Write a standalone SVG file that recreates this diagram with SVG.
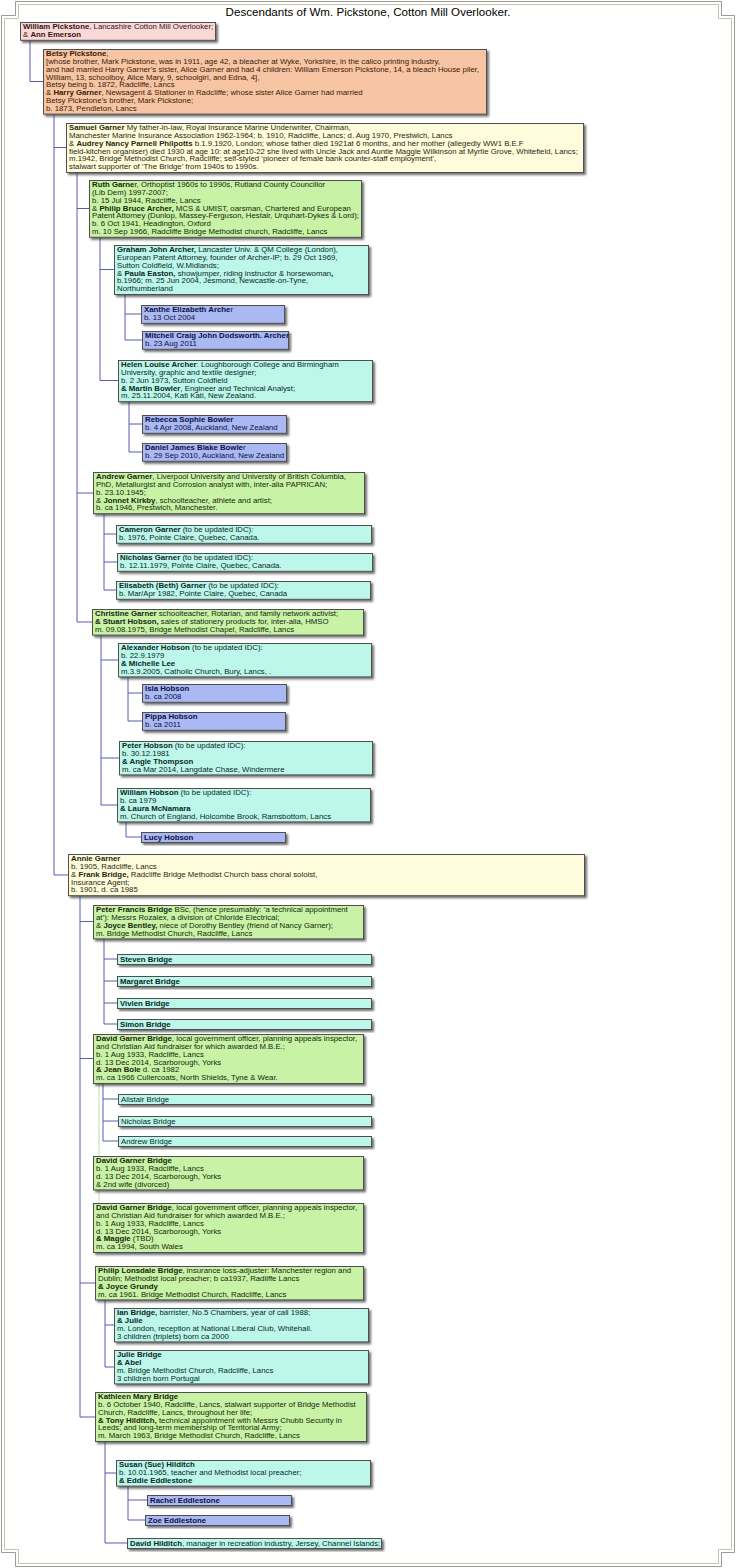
<svg xmlns="http://www.w3.org/2000/svg" width="736" height="1568" viewBox="0 0 736 1568">
<defs>
<filter id="sh" x="-5%" y="-20%" width="110%" height="150%"><feDropShadow dx="2" dy="2" stdDeviation="0.8" flood-color="#333" flood-opacity="0.7"/></filter>
<style>
text{font-family:"Liberation Sans",Arial,Helvetica,sans-serif;font-size:7.8px}
.b{font-weight:bold}
rect.bx{stroke:#505050;stroke-width:1;filter:url(#sh)}
.pk{fill:#f9d8d8}.pe{fill:#f7c5a3}.cr{fill:#fffcdb}.gr{fill:#c8f2a5}.aq{fill:#bcf7ea}.pw{fill:#aab8f3}
.tpk{fill:#3a1414}.tpe{fill:#3a1a0a}.tcr{fill:#2a2612}.tgr{fill:#15280c}.taq{fill:#0a2826}.tpw{fill:#0c1240}
#connectors path{fill:none;stroke:#5a5ab4;stroke-width:1}
#connectors path.alt{stroke:#c2dca4}
.fr1{fill:none;stroke:#9a9a9a;stroke-width:1}
.fr2{fill:none;stroke:#cbc2a6;stroke-width:1}
.title{font-size:11.6px;fill:#000}
</style>
</defs>
<rect width="736" height="1568" fill="#fff"/>
<path class="fr1" d="M15.5,1.5 H721.5 V15.5 H734.5 V1552.5 H721.5 V1566.5 H15.5 V1552.5 H1.5 V15.5 H15.5 Z"/>
<path class="fr2" d="M18.5,4.5 H718.5 V18.5 H731.5 V1549.5 H718.5 V1563.5 H18.5 V1549.5 H4.5 V18.5 H18.5 Z"/>
<text class="title" x="368" y="16" text-anchor="middle">Descendants of Wm. Pickstone, Cotton Mill Overlooker.</text>

<g id="connectors">
<path d="M30,40 V81.5 H43"/>
<path d="M54,114 V875 H68 M54,147.5 H66"/>
<path d="M77,172 V622 H92 M77,208.5 H89 M77,493 H93"/>
<path d="M100,237 V380.5 H118 M100,269.5 H114"/>
<path d="M125,294 V340 H142 M125,314 H141"/>
<path d="M129,401 V452 H142 M129,424 H142"/>
<path d="M104,513 V590 H116 M104,534 H116 M104,562 H117"/>
<path d="M101,635 V805 H117 M101,660 H118 M101,758 H119"/>
<path d="M128,676 V721 H142 M128,693 H142"/>
<path d="M126,821 V837 H141"/>
<path d="M80,895 V1417 H95 M80,921.5 H93 M80,1058.5 H93 M80,1283 H95"/>
<path d="M104,938 V1024 H117 M104,959 H117 M104,981 H117 M104,1003 H117"/>
<path d="M103,1083 V1141 H118 M103,1099 H118 M103,1121 H118"/>
<path class="alt" d="M99,1083 V1203"/>
<path d="M105,1299 V1367 H114 M105,1325 H114"/>
<path d="M105,1441 V1543 H127 M105,1473 H116"/>
<path d="M128,1486 V1520 H145 M128,1500 H147"/>
</g>

<g id="n-william"><rect class="bx pk" x="20.5" y="22.5" width="195" height="17.8"/>
<text class="tpk" x="23" y="29.2"><tspan class="b">William Pickstone</tspan>, Lancashire Cotton Mill Overlooker;</text>
<text class="tpk" x="23" y="37">&amp; <tspan class="b">Ann Emerson</tspan></text></g>

<g id="n-betsy"><rect class="bx pe" x="43.5" y="49.5" width="443" height="64.6"/>
<text class="tpe" x="46" y="56.2"><tspan class="b">Betsy Pickstone</tspan>,</text>
<text class="tpe" x="46" y="64">[whose brother, Mark Pickstone, was in 1911, age 42, a bleacher at Wyke, Yorkshire, in the calico printing industry,</text>
<text class="tpe" x="46" y="71.8">and  had married Harry Garner’s sister, Alice Garner and had 4 children: William Emerson Pickstone, 14, a bleach House piler,</text>
<text class="tpe" x="46" y="79.6">William, 13, schoolboy, Alice Mary, 9, schoolgirl, and Edna, 4],</text>
<text class="tpe" x="46" y="87.4">Betsy being b. 1872, Radcliffe, Lancs</text>
<text class="tpe" x="46" y="95.2">&amp; <tspan class="b">Harry Garner</tspan>, Newsagent &amp; Stationer in Radcliffe; whose sister Alice Garner had married</text>
<text class="tpe" x="46" y="103">Betsy Pickstone’s brother, Mark Pickstone;</text>
<text class="tpe" x="46" y="110.8">b. 1873, Pendleton, Lancs</text></g>

<g id="n-samuel"><rect class="bx cr" x="66.5" y="123.5" width="517" height="49"/>
<text class="tcr" x="69" y="130.2"><tspan class="b">Samuel Garner</tspan> My father-in-law, Royal Insurance Marine Underwriter, Chairman,</text>
<text class="tcr" x="69" y="138">Manchester Marine Insurance Association 1962-1964; b. 1910, Radcliffe, Lancs; d. Aug 1970, Prestwich, Lancs</text>
<text class="tcr" x="69" y="145.8">&amp; <tspan class="b">Audrey Nancy Parnell Philpotts</tspan> b.1.9.1920, London; whose father died 1921at 6 months, and her mother (allegedly WW1 B.E.F</text>
<text class="tcr" x="69" y="153.6">field-kitchen organiser) died 1930 at age 10: at age10-22 she lived with Uncle Jack and Auntie Maggie Wilkinson at Myrtle Grove, Whitefield, Lancs;</text>
<text class="tcr" x="69" y="161.4">m.1942, Bridge Methodist Church, Radcliffe; self-styled ‘pioneer of female bank counter-staff employment’,</text>
<text class="tcr" x="69" y="169.2">stalwart supporter of ‘The Bridge’ from 1940s to 1990s.</text></g>

<g id="n-ruth"><rect class="bx gr" x="89.5" y="180.5" width="272" height="56.8"/>
<text class="tgr" x="92" y="187.2"><tspan class="b">Ruth Garne</tspan>r, Orthoptist 1960s to 1990s, Rutland County Councillor</text>
<text class="tgr" x="92" y="195"> (Lib Dem) 1997-2007;</text>
<text class="tgr" x="92" y="202.8">b. 15 Jul 1944, Radcliffe, Lancs</text>
<text class="tgr" x="92" y="210.6">&amp; <tspan class="b">Philip Bruce Archer,</tspan> MCS &amp; UMIST, oarsman, Chartered and European</text>
<text class="tgr" x="92" y="218.4">Patent Attorney (Dunlop, Massey-Ferguson, Hestair, Urquhart-Dykes &amp; Lord);</text>
<text class="tgr" x="92" y="226.2">b. 6 Oct 1941, Headington, Oxford</text>
<text class="tgr" x="92" y="234">m. 10 Sep 1966, Radcliffe Bridge Methodist church, Radcliffe, Lancs</text></g>

<g id="n-graham"><rect class="bx aq" x="114.5" y="245.5" width="254" height="49"/>
<text class="taq" x="117" y="252.2"><tspan class="b">Graham John Archer,</tspan> Lancaster Univ. &amp; QM College (London),</text>
<text class="taq" x="117" y="260">European Patent Attorney, founder of Archer-IP; b. 29 Oct 1969,</text>
<text class="taq" x="117" y="267.8">Sutton Coldfield, W.Midlands;</text>
<text class="taq" x="117" y="275.6">&amp; <tspan class="b">Paula Easton,</tspan> showjumper, riding instructor &amp; horsewoman<tspan class="b">,</tspan></text>
<text class="taq" x="117" y="283.4"> b.1966; m. 25 Jun 2004, Jesmond, Newcastle-on-Tyne,</text>
<text class="taq" x="117" y="291.2">Northumberland</text></g>

<g id="n-xanthe"><rect class="bx pw" x="141.5" y="305.5" width="143" height="17.8"/>
<text class="tpw" x="144" y="312.2"><tspan class="b">Xanthe Elizabeth Arche</tspan>r</text>
<text class="tpw" x="144" y="320">b. 13 Oct 2004</text></g>

<g id="n-mitchell"><rect class="bx pw" x="142.5" y="331.5" width="146" height="17.8"/>
<text class="tpw" x="145" y="338.2"><tspan class="b">Mitchell Craig John Dodsworth. Archer</tspan></text>
<text class="tpw" x="145" y="346">b. 23 Aug 2011</text></g>

<g id="n-helen"><rect class="bx aq" x="118.5" y="360.5" width="254" height="41.2"/>
<text class="taq" x="121" y="367.2"><tspan class="b">Helen Louise Archer</tspan>: Loughborough College and Birmingham</text>
<text class="taq" x="121" y="375">University, graphic and textile designer;</text>
<text class="taq" x="121" y="382.8">b. 2 Jun 1973, Sutton Coldfield</text>
<text class="taq" x="121" y="390.6"><tspan class="b">&amp; Martin Bowler</tspan>, Engineer and Technical Analyst;</text>
<text class="taq" x="121" y="398.4">m. 25.11.2004, Kati Kati, New Zealand.</text></g>

<g id="n-rebecca"><rect class="bx pw" x="142.5" y="415.5" width="144" height="17.8"/>
<text class="tpw" x="145" y="422.2"><tspan class="b">Rebecca Sophie Bowler</tspan></text>
<text class="tpw" x="145" y="430">b. 4 Apr 2008, Auckland, New Zealand</text></g>

<g id="n-daniel"><rect class="bx pw" x="142.5" y="443.5" width="144" height="17.8"/>
<text class="tpw" x="145" y="450.2"><tspan class="b">Daniel James Blake Bowle</tspan>r</text>
<text class="tpw" x="145" y="458">b. 29 Sep 2010, Auckland, New Zealand</text></g>

<g id="n-andrew"><rect class="bx gr" x="93.5" y="472.5" width="271" height="41.2"/>
<text class="tgr" x="96" y="479.2"><tspan class="b">Andrew Garner</tspan>, Liverpool University and University of British Columbia,</text>
<text class="tgr" x="96" y="487">PhD, Metallurgist and Corrosion analyst with, inter-alia PAPRICAN;</text>
<text class="tgr" x="96" y="494.8">b. 23.10.1945;</text>
<text class="tgr" x="96" y="502.6">&amp; <tspan class="b">Jonnet Kirkby</tspan>, schoolteacher, athlete and artist;</text>
<text class="tgr" x="96" y="510.4">b. ca 1946, Prestwich, Manchester.</text></g>

<g id="n-cameron"><rect class="bx aq" x="116.5" y="525.5" width="255" height="17.8"/>
<text class="taq" x="119" y="532.2"><tspan class="b">Cameron Garner</tspan> (to be updated IDC):</text>
<text class="taq" x="119" y="540">b. 1976, Pointe Claire, Quebec, Canada.</text></g>

<g id="n-nicholas-garner"><rect class="bx aq" x="117.5" y="553.5" width="255" height="17.8"/>
<text class="taq" x="120" y="560.2"><tspan class="b">Nicholas Garner</tspan>  (to be updated IDC):</text>
<text class="taq" x="120" y="568">b. 12.11.1979, Pointe Claire, Quebec, Canada.</text></g>

<g id="n-elisabeth"><rect class="bx aq" x="116.5" y="581.5" width="254" height="17.8"/>
<text class="taq" x="119" y="588.2"><tspan class="b">Elisabeth (Beth) Garner</tspan>  (to be updated IDC):</text>
<text class="taq" x="119" y="596">b. Mar/Apr 1982, Pointe Claire, Quebec, Canada</text></g>

<g id="n-christine"><rect class="bx gr" x="92.5" y="609.5" width="271" height="25.6"/>
<text class="tgr" x="95" y="616.2"><tspan class="b">Christine Garner</tspan> schoolteacher, Rotarian, and family network activist;</text>
<text class="tgr" x="95" y="624"><tspan class="b">&amp; Stuart Hobson,</tspan> sales of stationery products for, inter-alia, HMSO</text>
<text class="tgr" x="95" y="631.8">m. 09.08.1975, Bridge Methodist Chapel, Radcliffe, Lancs</text></g>

<g id="n-alexander"><rect class="bx aq" x="118.5" y="643.5" width="253" height="33.4"/>
<text class="taq" x="121" y="650.2"><tspan class="b">Alexander Hobson</tspan> (to be updated IDC):</text>
<text class="taq" x="121" y="658">b. 22.9.1979</text>
<text class="taq" x="121" y="665.8"><tspan class="b">&amp; Michelle Lee</tspan></text>
<text class="taq" x="121" y="673.6">m.3.9.2005, Catholic Church, Bury, Lancs, .</text></g>

<g id="n-isla"><rect class="bx pw" x="142.5" y="684.5" width="144" height="17.8"/>
<text class="tpw" x="145" y="691.2"><tspan class="b">Isla Hobson</tspan></text>
<text class="tpw" x="145" y="699">b. ca 2008</text></g>

<g id="n-pippa"><rect class="bx pw" x="142.5" y="712.5" width="143" height="17.8"/>
<text class="tpw" x="145" y="719.2"><tspan class="b">Pippa Hobson</tspan></text>
<text class="tpw" x="145" y="727">b. ca 2011</text></g>

<g id="n-peter-hobson"><rect class="bx aq" x="119.5" y="741.5" width="253" height="33.4"/>
<text class="taq" x="122" y="748.2"><tspan class="b">Peter Hobson</tspan>  (to be updated IDC):</text>
<text class="taq" x="122" y="756">b. 30.12.1981</text>
<text class="taq" x="122" y="763.8"><tspan class="b">&amp; Angie Thompson</tspan></text>
<text class="taq" x="122" y="771.6">m. ca  Mar 2014, Langdate Chase, Windermere</text></g>

<g id="n-william-hobson"><rect class="bx aq" x="117.5" y="788.5" width="253" height="33.4"/>
<text class="taq" x="120" y="795.2"><tspan class="b">William Hobson</tspan>  (to be updated IDC):</text>
<text class="taq" x="120" y="803">b. ca 1979</text>
<text class="taq" x="120" y="810.8"><tspan class="b">&amp; Laura McNamara</tspan></text>
<text class="taq" x="120" y="818.6">m. Church of England, Holcombe Brook, Ramsbottom, Lancs</text></g>

<g id="n-lucy"><rect class="bx pw" x="141.5" y="832.5" width="144" height="10"/>
<text class="tpw" x="144" y="840.2"><tspan class="b">Lucy Hobson</tspan></text></g>

<g id="n-annie"><rect class="bx cr" x="68.5" y="854.5" width="516" height="41.2"/>
<text class="tcr" x="71" y="861.2"><tspan class="b">Annie Garner</tspan></text>
<text class="tcr" x="71" y="869">b. 1905, Radcliffe, Lancs</text>
<text class="tcr" x="71" y="876.8">&amp; <tspan class="b">Frank Bridge,</tspan> Radcliffe Bridge Methodist Church bass choral soloist,</text>
<text class="tcr" x="71" y="884.6">Insurance Agent;</text>
<text class="tcr" x="71" y="892.4">b. 1901, d. ca 1985</text></g>

<g id="n-peter-francis"><rect class="bx gr" x="93.5" y="905.5" width="270" height="33.4"/>
<text class="tgr" x="96" y="912.2"><tspan class="b">Peter Francis Bridge</tspan> BSc, (hence presumably: ‘a technical appointment</text>
<text class="tgr" x="96" y="920">at’): Messrs Rozalex, a division of Chloride Electrical;</text>
<text class="tgr" x="96" y="927.8">&amp; <tspan class="b">Joyce Bentley,</tspan> niece of Dorothy Bentley (friend of Nancy Garner);</text>
<text class="tgr" x="96" y="935.6">m. Bridge Methodist Church, Radcliffe, Lancs</text></g>

<g id="n-steven"><rect class="bx aq" x="117.5" y="954.5" width="254" height="10"/>
<text class="taq" x="120" y="962.2"><tspan class="b">Steven Bridge</tspan></text></g>
<g id="n-margaret"><rect class="bx aq" x="117.5" y="976.5" width="254" height="10"/>
<text class="taq" x="120" y="984.2"><tspan class="b">Margaret Bridge</tspan></text></g>
<g id="n-vivien"><rect class="bx aq" x="117.5" y="998.5" width="254" height="10"/>
<text class="taq" x="120" y="1006.2"><tspan class="b">Vivien Bridge</tspan></text></g>
<g id="n-simon"><rect class="bx aq" x="117.5" y="1019.5" width="254" height="10"/>
<text class="taq" x="120" y="1027.2"><tspan class="b">Simon Bridge</tspan></text></g>

<g id="n-david1"><rect class="bx gr" x="93.5" y="1034.5" width="270" height="49"/>
<text class="tgr" x="96" y="1041.2"><tspan class="b">David Garner Bridge</tspan>, local government officer, planning appeals inspector,</text>
<text class="tgr" x="96" y="1049">and Christian Aid fundraiser for which awarded M.B.E.;</text>
<text class="tgr" x="96" y="1056.8">b. 1 Aug 1933, Radcliffe, Lancs</text>
<text class="tgr" x="96" y="1064.6">d. 13 Dec 2014, Scarborough, Yorks</text>
<text class="tgr" x="96" y="1072.4"><tspan class="b">&amp; Jean Bole</tspan> d. ca 1982</text>
<text class="tgr" x="96" y="1080.2">m. ca 1966 Cullercoats, North Shields, Tyne &amp; Wear.</text></g>

<g id="n-alistair"><rect class="bx aq" x="118.5" y="1094.5" width="253" height="10"/>
<text class="taq" x="121" y="1102.2">Alistair Bridge</text></g>
<g id="n-nicholas-bridge"><rect class="bx aq" x="118.5" y="1116.5" width="253" height="10"/>
<text class="taq" x="121" y="1124.2">Nicholas Bridge</text></g>
<g id="n-andrew-bridge"><rect class="bx aq" x="118.5" y="1136.5" width="253" height="10"/>
<text class="taq" x="121" y="1144.2">Andrew Bridge</text></g>

<g id="n-david2"><rect class="bx gr" x="93.5" y="1156.5" width="270" height="33.4"/>
<text class="tgr" x="96" y="1163.2"><tspan class="b">David Garner Bridge</tspan></text>
<text class="tgr" x="96" y="1171">b. 1 Aug 1933, Radcliffe, Lancs</text>
<text class="tgr" x="96" y="1178.8">d. 13 Dec 2014, Scarborough, Yorks</text>
<text class="tgr" x="96" y="1186.6">&amp; 2nd wife (divorced)</text></g>

<g id="n-david3"><rect class="bx gr" x="93.5" y="1203.5" width="270" height="49"/>
<text class="tgr" x="96" y="1210.2"><tspan class="b">David Garner Bridge</tspan>, local government officer, planning appeals inspector,</text>
<text class="tgr" x="96" y="1218">and Christian Aid fundraiser for which awarded M.B.E.;</text>
<text class="tgr" x="96" y="1225.8">b. 1 Aug 1933, Radcliffe, Lancs</text>
<text class="tgr" x="96" y="1233.6">d. 13 Dec 2014, Scarborough, Yorks</text>
<text class="tgr" x="96" y="1241.4"><tspan class="b">&amp; Maggie</tspan> (TBD)</text>
<text class="tgr" x="96" y="1249.2">m. ca 1994, South Wales</text></g>

<g id="n-philip"><rect class="bx gr" x="95.5" y="1266.5" width="268" height="33.4"/>
<text class="tgr" x="98" y="1273.2"><tspan class="b">Philip Lonsdale Bridge</tspan>,  insurance loss-adjuster: Manchester region and</text>
<text class="tgr" x="98" y="1281">Dublin; Methodist local preacher; b ca1937, Radliffe Lancs</text>
<text class="tgr" x="98" y="1288.8"><tspan class="b">&amp; Joyce Grundy</tspan></text>
<text class="tgr" x="98" y="1296.6">m. ca 1961. Bridge Methodist Church,  Radcliffe, Lancs</text></g>

<g id="n-ian"><rect class="bx aq" x="114.5" y="1308.5" width="254" height="33.4"/>
<text class="taq" x="117" y="1315.2"><tspan class="b">Ian Bridge,</tspan> barrister, No.5 Chambers, year of call 1988;</text>
<text class="taq" x="117" y="1323"><tspan class="b">&amp; Julie</tspan></text>
<text class="taq" x="117" y="1330.8">m. London, reception at National Liberal Club, Whitehall.</text>
<text class="taq" x="117" y="1338.6">3 children (triplets) born ca 2000</text></g>

<g id="n-julie"><rect class="bx aq" x="114.5" y="1350.5" width="254" height="33.4"/>
<text class="taq" x="117" y="1357.2"><tspan class="b">Julie Bridge</tspan></text>
<text class="taq" x="117" y="1365"><tspan class="b">&amp; Abel</tspan></text>
<text class="taq" x="117" y="1372.8">m. Bridge Methodist Church, Radcliffe, Lancs</text>
<text class="taq" x="117" y="1380.6">3 children born Portugal</text></g>

<g id="n-kathleen"><rect class="bx gr" x="95.5" y="1392.5" width="271" height="49"/>
<text class="tgr" x="98" y="1399.2"><tspan class="b">Kathleen Mary Bridge</tspan></text>
<text class="tgr" x="98" y="1407">b. 6 October 1940, Radcliffe, Lancs, stalwart supporter of Bridge Methodist</text>
<text class="tgr" x="98" y="1414.8">Church, Radcliffe, Lancs, throughout her life;</text>
<text class="tgr" x="98" y="1422.6"><tspan class="b">&amp; Tony Hilditch,</tspan> technical appointment with Messrs Chubb Security in</text>
<text class="tgr" x="98" y="1430.4">Leeds; and long-term membership of Territorial Army;</text>
<text class="tgr" x="98" y="1438.2">m. March 1963, Bridge Methodist Church, Radcliffe, Lancs</text></g>

<g id="n-susan"><rect class="bx aq" x="116.5" y="1460.5" width="254" height="25.6"/>
<text class="taq" x="119" y="1467.2"><tspan class="b">Susan (Sue) Hilditch</tspan></text>
<text class="taq" x="119" y="1475">b. 10.01.1965, teacher and Methodist local preacher;</text>
<text class="taq" x="119" y="1482.8"><tspan class="b">&amp; Eddie Eddlestone</tspan></text></g>

<g id="n-rachel"><rect class="bx pw" x="147.5" y="1495.5" width="144" height="10"/>
<text class="tpw" x="150" y="1503.2"><tspan class="b">Rachel Eddlestone</tspan></text></g>
<g id="n-zoe"><rect class="bx pw" x="145.5" y="1515.5" width="144" height="10"/>
<text class="tpw" x="148" y="1523.2"><tspan class="b">Zoe Eddlestone</tspan></text></g>

<g id="n-david-hilditch"><rect class="bx aq" x="127.5" y="1538.5" width="254" height="10"/>
<text class="taq" x="130" y="1546.2"><tspan class="b">David Hilditch</tspan>, manager in recreation industry, Jersey, Channel Islands;</text></g>
</svg>
